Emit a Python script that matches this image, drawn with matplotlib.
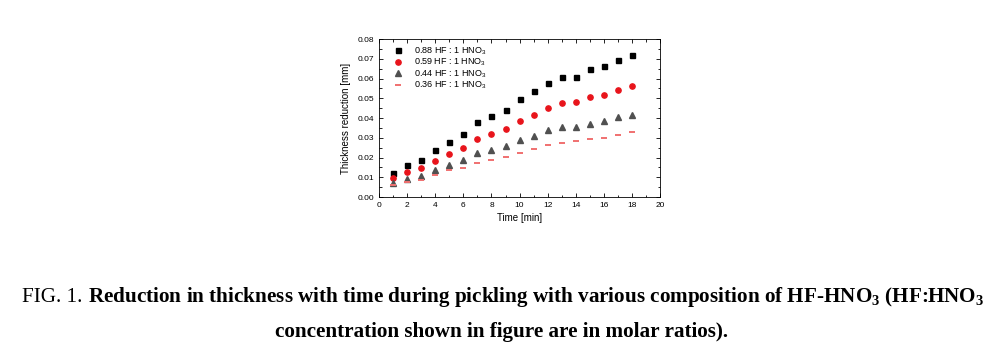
import matplotlib
matplotlib.use("Agg")
import matplotlib.pyplot as plt
from matplotlib.ticker import MultipleLocator

time_min = [1, 2, 3, 4, 5, 6, 7, 8, 9, 10, 11, 12, 13, 14, 15, 16, 17, 18]
hf088 = [0.0122, 0.0161, 0.0188, 0.0239, 0.0277, 0.0318, 0.0381, 0.0410, 0.0440,
         0.0497, 0.0536, 0.0579, 0.0607, 0.0610, 0.0646, 0.0665, 0.0695, 0.0720]
hf059 = [0.0095, 0.0127, 0.0146, 0.0184, 0.0218, 0.0249, 0.0296, 0.0318, 0.0343,
         0.0387, 0.0416, 0.0452, 0.0474, 0.0479, 0.0504, 0.0518, 0.0543, 0.0560]
hf044 = [0.0071, 0.0093, 0.0108, 0.0135, 0.0162, 0.0186, 0.0222, 0.0239, 0.0257,
         0.0291, 0.0311, 0.0338, 0.0352, 0.0355, 0.0372, 0.0386, 0.0404, 0.0416]
hf036 = [0.0063, 0.0076, 0.0086, 0.0112, 0.0137, 0.0149, 0.0173, 0.0188, 0.0203,
         0.0225, 0.0244, 0.0264, 0.0274, 0.0284, 0.0294, 0.0301, 0.0316, 0.0327]
labels = ["0.88 HF : 1 HNO$_3$", "0.59 HF : 1 HNO$_3$",
          "0.44 HF : 1 HNO$_3$", "0.36 HF : 1 HNO$_3$"]

plt.rcParams['font.family'] = ['Liberation Sans', 'DejaVu Sans']
plt.rcParams['mathtext.fontset'] = 'custom'
plt.rcParams['mathtext.rm'] = 'Liberation Sans'
plt.rcParams['mathtext.default'] = 'rm'

fig = plt.figure(figsize=(10.03, 3.49), dpi=100)
ax = fig.add_axes([0.378, 0.4355, 0.280, 0.4527])

ax.plot(time_min, hf088, ls='none', marker='s', ms=3.6, color='black', label=labels[0])
ax.plot(time_min, hf059, ls='none', marker='o', ms=3.8, color='#e8141b', label=labels[1])
ax.plot(time_min, hf044, ls='none', marker='^', ms=3.8, color='#505050', label=labels[2])
ax.plot(time_min, hf036, ls='none', marker='_', ms=4.5, mew=1.4, color='#f07070', label=labels[3])

ax.set_xlim(0, 20)
ax.set_ylim(0, 0.08)
ax.xaxis.set_major_locator(MultipleLocator(2))
ax.xaxis.set_minor_locator(MultipleLocator(1))
ax.yaxis.set_major_locator(MultipleLocator(0.01))
ax.yaxis.set_minor_locator(MultipleLocator(0.005))
ax.yaxis.set_major_formatter(plt.FormatStrFormatter('%.2f'))
ax.tick_params(which='both', direction='in', top=True, right=True, labelsize=6, width=0.6)
ax.tick_params(which='major', length=3)
ax.tick_params(which='minor', length=1.8)
for s in ax.spines.values():
    s.set_linewidth(0.6)
ax.set_xlabel("Time [min]", fontsize=7, labelpad=3)
ax.set_ylabel("Thickness reduction [mm]", fontsize=7, labelpad=5)

ax.legend(loc='upper left', frameon=False, fontsize=6.5, handlelength=1.0,
          handletextpad=1.2, labelspacing=0.0, handleheight=0.6, borderaxespad=0.3,
          bbox_to_anchor=(0.03, 1.0))

# caption
fig.canvas.draw()
r = fig.canvas.get_renderer()
serif = ['Liberation Serif', 'DejaVu Serif']
plt.rcParams['mathtext.rm'] = 'Liberation Serif:bold'
fs = 15.2
x0 = 22 / 1003
t1 = fig.text(x0, 1 - 297 / 349, "FIG. 1. ", family=serif, fontsize=fs, va='center')
bb = t1.get_window_extent(r)
fig.text(bb.x1 / fig.bbox.width, 1 - 297 / 349,
         "Reduction in thickness with time during pickling with various composition of "
         "HF-HNO$_3$ (HF:HNO$_3$",
         family=serif, fontsize=fs, weight='bold', va='center')
fig.text(0.5, 1 - 332 / 349, "concentration shown in figure are in molar ratios).",
         family=serif, fontsize=fs, weight='bold', va='center', ha='center')

fig.savefig("out.png", dpi=100)
